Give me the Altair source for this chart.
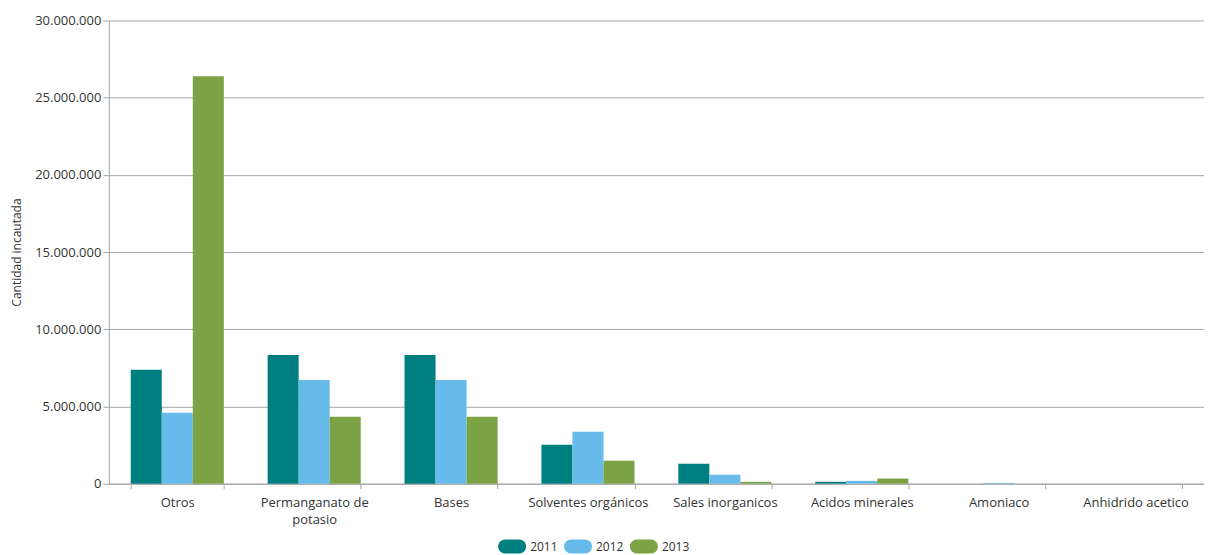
import altair as alt
import pandas as pd

categories = ["Otros", "Permanganato de potasio", "Bases", "Solventes orgánicos",
              "Sales inorganicos", "Acidos minerales", "Amoniaco", "Anhidrido acetico"]
years = ["2011", "2012", "2013"]
v2011 = [7370000, 8340000, 8340000, 2520000, 1290000, 120000, 0, 0]
v2012 = [4590000, 6720000, 6720000, 3360000, 580000, 180000, 50000, 0]
v2013 = [26380000, 4330000, 4330000, 1490000, 120000, 330000, 0, 0]
colors = ["#007F80", "#67BBEA", "#7BA344"]

rows = []
for i, c in enumerate(categories):
    for y, vals in zip(years, [v2011, v2012, v2013]):
        rows.append({"cat": c, "year": y, "value": vals[i]})
df = pd.DataFrame(rows)

FONT = "Open Sans"
stadium = "M-0.5,-0.5 L0.5,-0.5 A0.5,0.5 0 0 1 0.5,0.5 L-0.5,0.5 A0.5,0.5 0 0 1 -0.5,-0.5 Z"

chart = alt.Chart(df).mark_bar().encode(
    x=alt.X("cat:N", sort=categories, title=None,
            scale=alt.Scale(paddingInner=0.32, paddingOuter=0.16),
            axis=alt.Axis(labelAngle=0, tickBand="extent", labelFontSize=13,
                          labelColor="#333333", labelPadding=8, tickSize=5,
                          labelLineHeight=17,
                          tickColor="#A6A6A6", domainColor="#A6A6A6",
                          labelExpr="datum.label == 'Permanganato de potasio' ? ['Permanganato de', 'potasio'] : datum.label")),
    xOffset=alt.XOffset("year:N", sort=years),
    y=alt.Y("value:Q", title="Cantidad incautada",
            scale=alt.Scale(domain=[0, 30000000], nice=False),
            axis=alt.Axis(values=[0, 5000000, 10000000, 15000000, 20000000, 25000000, 30000000],
                          labelExpr="replace(replace(format(datum.value, ','), ',', '.'), ',', '.')",
                          labelFontSize=13, labelColor="#333333", tickSize=6,
                          tickColor="#A6A6A6", domainColor="#A6A6A6",
                          gridColor="#A6A6A6", titleFontSize=12, titleFontWeight="normal",
                          titleColor="#333333", titleX=-92, titleBaseline="middle",
                          titlePadding=10)),
    color=alt.Color("year:N", sort=years, scale=alt.Scale(domain=years, range=colors),
                    legend=alt.Legend(title=None, orient="none", direction="horizontal",
                                      legendX=390, legendY=513, symbolType=stadium,
                                      symbolSize=784, symbolStrokeWidth=0, symbolOpacity=1,
                                      labelFontSize=12, labelColor="#333333",
                                      columnPadding=6, labelOffset=4, padding=0)),
).properties(
    width=1097, height=464,
    autosize=alt.AutoSizeParams(type="none"),
    padding={"left": 101, "top": 12, "right": 0, "bottom": 71},
).configure(font=FONT).configure_view(stroke=None).configure_axisX(grid=False)

chart.save("out.html", embed_options={"renderer": "svg", "actions": False})
